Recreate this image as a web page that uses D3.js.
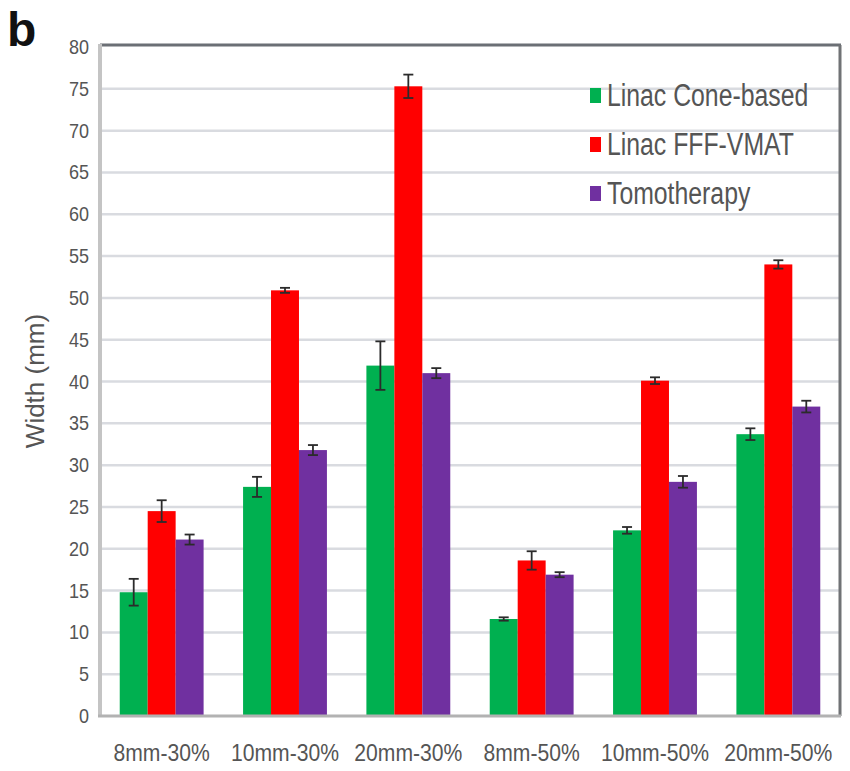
<!DOCTYPE html>
<html>
<head>
  <script src="https://d3js.org/d3.v7.min.js"></script>
  <style>
    body { margin: 0; background: #fff; }
    svg text { font-family: "Liberation Sans", Arial, sans-serif; }
  </style>
</head>
<body>
  <script>
    // data
    var categories = ["8mm-30%", "10mm-30%", "20mm-30%", "8mm-50%", "10mm-50%", "20mm-50%"];
    var seriesNames = ["Linac Cone-based", "Linac FFF-VMAT", "Tomotherapy"];
    var seriesColors = ["#00b050", "#ff0000", "#7030a0"];
    var coneVals = [14.8, 27.4, 41.9, 11.6, 22.2, 33.7];
    var coneErr  = [1.6, 1.2, 2.9, 0.2, 0.4, 0.7];
    var fffVals  = [24.5, 50.9, 75.3, 18.6, 40.1, 54.0];
    var fffErr   = [1.3, 0.3, 1.4, 1.1, 0.4, 0.5];
    var tomoVals = [21.1, 31.8, 41.0, 16.9, 28.0, 37.0];
    var tomoErr  = [0.6, 0.6, 0.6, 0.3, 0.7, 0.7];
    var yTicks = d3.range(0, 81, 5);

    var values = [coneVals, fffVals, tomoVals];
    var errors = [coneErr, fffErr, tomoErr];

    var W = 850, H = 771;
    var pLeft = 100, pRight = 840, pTop = 47, pBottom = 716;

    var svg = d3.select("body").append("svg")
        .attr("width", W).attr("height", H);

    var y = d3.scaleLinear().domain([0, 80]).range([pBottom, pTop]);
    var x0 = d3.scaleBand().domain(categories).range([pLeft, pRight])
        .paddingInner(0.32).paddingOuter(0.16);
    var x1 = d3.scaleBand().domain(d3.range(3)).range([0, x0.bandwidth()]);

    // gridlines
    svg.append("g").selectAll("line")
        .data(yTicks.filter(function (d) { return d > 0 && d < 80; }))
        .enter().append("line")
        .attr("x1", pLeft).attr("x2", pRight)
        .attr("y1", function (d) { return y(d); })
        .attr("y2", function (d) { return y(d); })
        .attr("stroke", "#d9dbe0").attr("stroke-width", 2.5);

    // frame: top + right darker
    svg.append("line").attr("x1", pLeft).attr("x2", pRight + 1)
        .attr("y1", pTop - 2).attr("y2", pTop - 2)
        .attr("stroke", "#6b6f75").attr("stroke-width", 3);
    svg.append("line").attr("x1", pRight).attr("x2", pRight)
        .attr("y1", pTop - 2).attr("y2", pBottom)
        .attr("stroke", "#707275").attr("stroke-width", 3);

    // bars
    var groups = svg.append("g").selectAll("g")
        .data(categories).enter().append("g")
        .attr("transform", function (d) { return "translate(" + x0(d) + ",0)"; });

    function rows(d, i) {
      return values.map(function (v, s) { return { s: s, v: v[i], e: errors[s][i] }; });
    }

    groups.selectAll("rect")
        .data(rows)
        .enter().append("rect")
        .attr("x", function (d) { return x1(d.s); })
        .attr("width", x1.bandwidth())
        .attr("y", function (d) { return y(d.v); })
        .attr("height", function (d) { return pBottom - y(d.v); })
        .attr("fill", function (d) { return seriesColors[d.s]; });

    // error bars
    var eb = groups.selectAll("g.err")
        .data(rows)
        .enter().append("g").attr("class", "err")
        .attr("stroke", "#2b2b2b").attr("stroke-width", 1.8);
    eb.append("line")
        .attr("x1", function (d) { return x1(d.s) + x1.bandwidth() / 2; })
        .attr("x2", function (d) { return x1(d.s) + x1.bandwidth() / 2; })
        .attr("y1", function (d) { return y(d.v + d.e); })
        .attr("y2", function (d) { return y(d.v - d.e); });
    [1, -1].forEach(function (sgn) {
      eb.append("line")
          .attr("x1", function (d) { return x1(d.s) + x1.bandwidth() / 2 - 5; })
          .attr("x2", function (d) { return x1(d.s) + x1.bandwidth() / 2 + 5; })
          .attr("y1", function (d) { return y(d.v + sgn * d.e); })
          .attr("y2", function (d) { return y(d.v + sgn * d.e); });
    });

    // left + bottom axis lines
    svg.append("line").attr("x1", pLeft).attr("x2", pLeft)
        .attr("y1", pTop - 3).attr("y2", pBottom + 1)
        .attr("stroke", "#c4c4c4").attr("stroke-width", 4);
    svg.append("line").attr("x1", pLeft - 2).attr("x2", pRight + 1)
        .attr("y1", pBottom).attr("y2", pBottom)
        .attr("stroke", "#b2b2b2").attr("stroke-width", 3);

    // y tick labels
    svg.append("g").selectAll("text")
        .data(yTicks).enter().append("text")
        .attr("text-anchor", "end")
        .attr("transform", function (d) { return "translate(89," + (y(d) + 7) + ") scale(0.9,1)"; })
        .attr("font-size", 20).attr("fill", "#555")
        .text(function (d) { return d; });

    // x tick labels (slightly condensed, taller glyphs)
    svg.append("g").selectAll("text")
        .data(categories).enter().append("text")
        .attr("text-anchor", "middle")
        .attr("transform", function (d) {
          return "translate(" + (x0(d) + x0.bandwidth() / 2) + ",761) scale(0.92,1)";
        })
        .attr("font-size", 23).attr("fill", "#555")
        .text(function (d) { return d; });

    // y title
    svg.append("text")
        .attr("transform", "translate(44,381) rotate(-90)")
        .attr("text-anchor", "middle")
        .attr("font-size", 26).attr("fill", "#555")
        .text("Width (mm)");

    // panel letter
    svg.append("text").attr("x", 7).attr("y", 46)
        .attr("font-size", 48).attr("font-weight", "bold").attr("fill", "#111")
        .text("b");

    // legend
    var lg = svg.append("g").selectAll("g")
        .data(seriesNames).enter().append("g")
        .attr("transform", function (d, i) { return "translate(590," + (106 + i * 49) + ")"; });
    lg.append("rect").attr("x", 0).attr("y", -18).attr("width", 11).attr("height", 15)
        .attr("fill", function (d, i) { return seriesColors[i]; });
    lg.append("text")
        .attr("transform", "translate(17,0) scale(0.8,1)")
        .attr("font-size", 31).attr("fill", "#555")
        .text(function (d) { return d; });
  </script>
</body>
</html>
